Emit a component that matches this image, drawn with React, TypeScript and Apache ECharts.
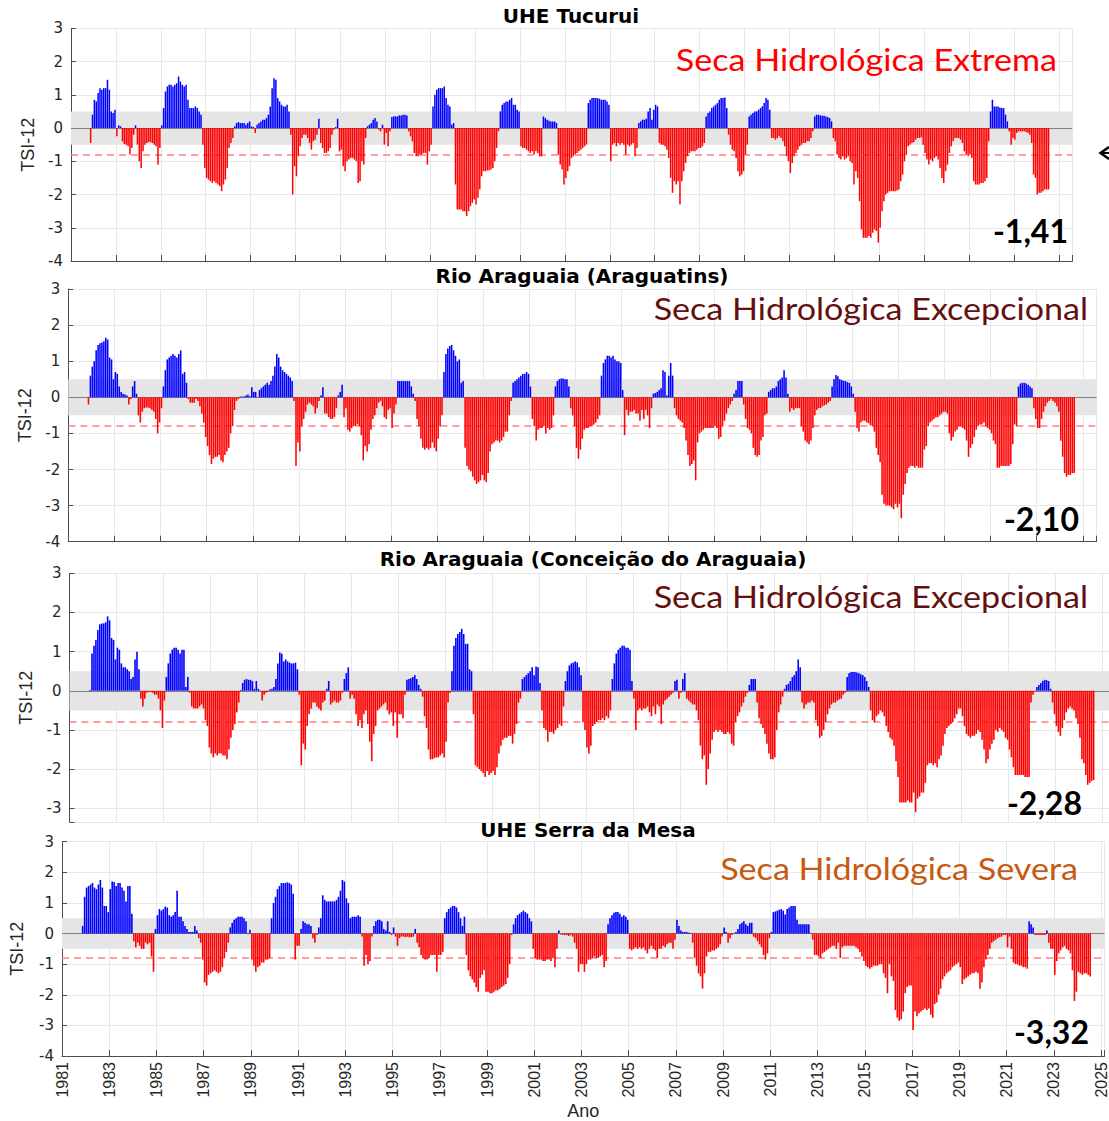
import React, { useEffect, useRef } from 'react';
import * as echarts from 'echarts';

// ---------------- DATA (monthly TSI-12, first row = Nov/Dec 1981, then one row per year) ----------------
const FIRST_YEAR = 1981;
const FIRST_MONTH = 11;

const tucurui: number[][] = [
  [-0.45, 0.4],
  [0.85, 0.8, 1.05, 1.2, 1.15, 1.2, 1.2, 1.45, 1.15, 0.5, 0.45, 0.55], // 1982
  [-0.25, 0.08, 0.05, -0.4, -0.48, -0.5, -0.55, -0.8, -0.6, -0.2, 0.08, -0.5],
  [-1.0, -1.2, -0.7, -0.5, -0.45, -0.42, -0.42, -0.45, -0.5, -0.55, -1.1, -0.6],
  [0.08, 0.6, 1.1, 1.25, 1.3, 1.3, 1.25, 1.3, 1.35, 1.55, 1.4, 1.3], // 1985
  [1.25, 1.3, 0.85, 0.6, 0.6, 0.6, 0.65, 0.6, 0.5, 0.4, -0.5, -1.2],
  [-1.5, -1.55, -1.6, -1.65, -1.6, -1.65, -1.7, -1.75, -1.9, -1.7, -1.55, -1.2],
  [-0.6, -0.45, -0.3, 0.05, 0.15, 0.18, 0.15, 0.15, 0.15, 0.1, 0.15, 0.2],
  [0.05, 0.03, -0.15, 0.1, 0.15, 0.2, 0.25, 0.25, 0.3, 0.4, 0.65, 1.2],
  [1.5, 1.45, 0.9, 0.8, 0.7, 0.65, 0.65, 0.7, 0.5, -0.2, -2.0, -1.15], // 1990
  [-1.45, -0.85, -0.55, -0.3, -0.2, -0.2, -0.3, -0.45, -0.65, -0.4, -0.35, -0.2],
  [0.28, -0.45, -0.6, -0.75, -0.75, -0.7, -0.6, -0.2, -0.05, 0.03, 0.28, -0.7],
  [-0.65, -1.15, -1.3, -1.0, -0.95, -0.9, -0.9, -0.95, -1.0, -1.65, -1.6, -1.0],
  [-1.1, -0.3, 0.05, 0.1, 0.15, 0.25, 0.3, 0.2, -0.05, -0.1, 0.1, -0.5],
  [-0.15, -0.55, -0.1, 0.33, 0.35, 0.35, 0.35, 0.38, 0.38, 0.4, 0.4, 0.38], // 1995
  [-0.1, -0.25, -0.4, -0.75, -0.85, -0.85, -0.8, -0.8, -0.75, -0.75, -1.1, -0.7],
  [-0.5, 0.65, 1.0, 1.15, 1.2, 1.2, 1.2, 1.25, 0.9, 0.7, 0.65, 0.1],
  [0.15, -1.7, -2.45, -2.45, -2.45, -2.5, -2.5, -2.65, -2.5, -2.35, -2.25, -2.15],
  [-2.3, -2.1, -1.85, -1.45, -1.3, -1.3, -1.28, -1.27, -1.25, -1.2, -1.0, -0.6],
  [-0.1, 0.5, 0.7, 0.75, 0.8, 0.8, 0.85, 0.9, 0.7, 0.7, 0.55, 0.5], // 2000
  [-0.55, -0.6, -0.6, -0.65, -0.7, -0.75, -0.7, -0.8, -0.7, -0.75, -0.85, -0.85],
  [0.35, 0.3, 0.25, 0.22, 0.2, 0.2, 0.2, 0.15, -0.8, -1.1, -1.25, -1.7],
  [-1.5, -1.3, -1.15, -0.9, -0.85, -0.8, -0.75, -0.7, -0.65, -0.6, -0.55, -0.5],
  [0.75, 0.85, 0.9, 0.9, 0.9, 0.9, 0.88, 0.85, 0.85, 0.85, 0.8, 0.7],
  [-1.0, -0.5, -0.45, -0.55, -0.45, -0.5, -0.45, -0.5, -0.8, -0.5, -0.55, -0.5], // 2005
  [-0.45, -0.85, -0.6, 0.15, 0.2, 0.25, 0.25, 0.28, 0.5, 0.6, 0.25, 0.55],
  [0.7, 0.65, -0.45, -0.5, -0.5, -0.55, -0.65, -0.9, -1.5, -1.95, -1.6, -1.7],
  [-1.6, -2.3, -1.6, -1.3, -1.05, -0.85, -0.75, -0.7, -0.7, -0.7, -0.65, -0.6],
  [-0.6, -0.55, -0.45, 0.35, 0.45, 0.5, 0.6, 0.65, 0.7, 0.75, 0.85, 0.9],
  [0.9, 0.92, 0.6, -0.2, -0.5, -0.65, -0.7, -0.9, -1.3, -1.45, -1.4, -1.3], // 2010
  [-0.8, -0.5, 0.35, 0.4, 0.45, 0.5, 0.5, 0.55, 0.6, 0.65, 0.75, 0.9],
  [0.85, 0.55, -0.3, -0.3, -0.35, -0.3, -0.25, -0.3, -0.4, -0.55, -0.85, -1.0],
  [-1.35, -1.05, -0.85, -0.75, -0.65, -0.55, -0.5, -0.45, -0.45, -0.4, -0.4, -0.3],
  [-0.1, 0.35, 0.4, 0.4, 0.38, 0.37, 0.37, 0.35, 0.33, 0.3, 0.2, -0.3],
  [-0.4, -0.8, -0.9, -0.95, -0.85, -0.95, -0.9, -0.85, -1.0, -1.05, -1.7, -1.3], // 2015
  [-1.5, -2.2, -3.05, -3.3, -3.3, -3.3, -3.25, -3.3, -3.15, -3.05, -3.1, -3.45],
  [-3.0, -2.5, -2.2, -2.0, -1.95, -1.9, -1.9, -1.9, -1.9, -1.88, -1.85, -1.6],
  [-1.4, -1.0, -0.8, -0.55, -0.5, -0.45, -0.42, -0.35, -0.3, -0.3, -0.28, -0.5],
  [-0.75, -0.95, -1.1, -0.95, -1.0, -0.9, -0.85, -0.95, -1.2, -1.5, -1.65, -1.3],
  [-1.1, -0.75, -0.55, -0.4, -0.3, -0.3, -0.3, -0.35, -0.45, -0.7, -0.8, -0.85], // 2020
  [-0.8, -0.9, -1.6, -1.7, -1.7, -1.7, -1.65, -1.65, -1.6, -1.5, -0.4, 0.5],
  [0.85, 0.65, 0.65, 0.65, 0.62, 0.6, 0.6, 0.4, 0.2, -0.1, -0.5, -0.3],
  [-0.35, -0.15, -0.1, -0.1, -0.1, -0.1, -0.12, -0.15, -0.2, -0.45, -1.4, -1.5],
  [-2.0, -1.95, -1.95, -1.9, -1.85, -1.85, -1.85], // 2024
];

const araguatins: number[][] = [
  [-0.2, 0.6],
  [0.85, 1.0, 1.3, 1.45, 1.5, 1.52, 1.55, 1.65, 1.6, 1.1, 1.05, 0.5], // 1982
  [0.7, 0.65, 0.3, 0.15, 0.1, 0.08, 0.05, -0.2, -0.05, 0.3, 0.45, 0.1],
  [-0.5, -0.7, -0.4, -0.3, -0.28, -0.28, -0.3, -0.35, -0.4, -0.6, -1.0, -0.7],
  [-0.3, 0.3, 0.75, 1.05, 1.1, 1.15, 1.2, 1.15, 1.1, 1.2, 1.3, 0.65], // 1985
  [0.7, 0.4, -0.05, -0.15, -0.15, -0.15, -0.05, -0.1, -0.25, -0.45, -0.7, -1.1],
  [-1.35, -1.6, -1.85, -1.7, -1.65, -1.65, -1.6, -1.75, -1.8, -1.6, -1.5, -1.4],
  [-1.0, -0.8, -0.35, -0.1, -0.05, 0.02, 0.02, 0.02, 0.05, 0.08, 0.03, 0.28],
  [0.15, 0.15, -0.02, 0.2, 0.25, 0.3, 0.35, 0.4, 0.35, 0.45, 0.6, 0.85],
  [1.2, 1.1, 0.85, 0.75, 0.7, 0.65, 0.6, 0.55, 0.45, -0.1, -1.9, -1.25], // 1990
  [-1.5, -0.8, -0.6, -0.4, -0.2, -0.15, -0.2, -0.25, -0.45, -0.3, -0.1, 0.05],
  [0.28, -0.45, -0.45, -0.55, -0.6, -0.6, -0.55, -0.3, 0.05, 0.15, 0.35, -0.55],
  [-0.3, -0.9, -0.95, -0.85, -0.8, -0.8, -0.75, -0.8, -1.05, -1.75, -1.35, -1.5],
  [-1.3, -0.9, -0.6, -0.5, -0.3, -0.15, -0.1, -0.25, -0.55, -0.6, -0.35, -0.3],
  [-0.85, -0.45, -0.2, 0.45, 0.45, 0.45, 0.45, 0.45, 0.45, 0.45, 0.3, 0.1], // 1995
  [-0.1, -0.6, -0.8, -1.15, -1.4, -1.45, -1.4, -1.45, -1.4, -1.25, -1.4, -1.5],
  [-1.15, -0.8, -0.5, 0.7, 1.2, 1.35, 1.42, 1.45, 1.3, 1.15, 1.0, 1.05],
  [0.4, 0.45, -1.4, -1.9, -2.0, -2.05, -2.2, -2.3, -2.4, -2.35, -2.3, -2.15],
  [-2.3, -2.35, -2.1, -1.5, -1.3, -1.25, -1.2, -1.2, -1.25, -1.2, -1.1, -0.95],
  [-0.95, -0.5, -0.1, 0.4, 0.45, 0.5, 0.55, 0.6, 0.65, 0.65, 0.7, 0.65], // 2000
  [0.3, -0.6, -0.8, -1.2, -0.9, -0.85, -0.85, -0.8, -1.0, -0.85, -0.9, -0.85],
  [-0.5, 0.3, 0.45, 0.5, 0.52, 0.52, 0.5, 0.5, 0.3, -0.3, -0.5, -0.8],
  [-1.4, -1.7, -1.45, -1.15, -0.9, -0.85, -0.85, -0.8, -0.8, -0.75, -0.7, -0.6],
  [-0.5, 0.6, 0.95, 1.05, 1.15, 1.15, 1.1, 1.15, 1.05, 1.0, 1.0, 0.95],
  [0.2, -1.05, -0.35, -0.5, -0.4, -0.4, -0.35, -0.45, -0.45, -0.65, -0.35, -0.6], // 2005
  [-0.35, -0.5, -0.85, -0.3, 0.1, 0.12, 0.15, 0.2, 0.25, 0.75, 0.7, 0.05],
  [0.6, 0.95, 0.6, -0.3, -0.5, -0.6, -0.65, -0.7, -0.85, -1.2, -1.6, -1.9],
  [-1.85, -1.75, -2.3, -1.25, -1.0, -0.95, -0.9, -0.85, -0.85, -0.85, -0.85, -0.85],
  [-0.8, -0.85, -1.15, -1.1, -0.8, -0.65, -0.45, -0.3, -0.2, -0.1, 0.1, 0.2],
  [0.45, 0.45, 0.45, -0.2, -0.6, -0.85, -0.9, -1.0, -1.4, -1.6, -1.65, -1.6], // 2010
  [-1.2, -1.1, -0.5, -0.45, 0.15, 0.2, 0.25, 0.25, 0.3, 0.45, 0.5, 0.55],
  [0.75, 0.55, 0.1, -0.4, -0.3, -0.35, -0.3, -0.3, -0.3, -0.8, -0.95, -1.2],
  [-1.25, -1.3, -1.2, -0.85, -0.5, -0.35, -0.3, -0.3, -0.25, -0.22, -0.2, -0.15],
  [-0.1, 0.3, 0.5, 0.62, 0.58, 0.5, 0.48, 0.46, 0.45, 0.42, 0.4, 0.3],
  [0.1, -0.4, -0.85, -0.95, -0.7, -0.65, -0.65, -0.7, -0.72, -0.78, -0.8, -0.95], // 2015
  [-1.4, -1.6, -1.8, -2.7, -2.95, -3.0, -3.0, -3.0, -3.05, -3.1, -2.95, -3.05],
  [-2.95, -3.35, -2.7, -2.4, -2.1, -1.95, -1.9, -1.9, -1.95, -1.9, -1.95, -1.95],
  [-1.95, -1.45, -1.35, -0.8, -0.7, -0.65, -0.6, -0.55, -0.55, -0.5, -0.45, -0.4],
  [-0.4, -0.45, -1.0, -1.2, -1.1, -0.95, -0.9, -0.8, -0.8, -0.85, -0.9, -1.2],
  [-1.65, -1.4, -1.3, -1.1, -0.9, -0.8, -0.75, -0.75, -0.7, -0.8, -0.85, -0.9], // 2020
  [-1.0, -1.2, -1.3, -1.95, -1.95, -1.9, -1.9, -1.9, -1.9, -1.9, -1.85, -1.3],
  [-0.75, -0.8, 0.3, 0.38, 0.4, 0.4, 0.38, 0.35, 0.3, 0.25, -0.3, -0.6],
  [-0.85, -0.85, -0.6, -0.4, -0.25, -0.15, -0.1, -0.05, -0.1, -0.15, -0.25, -0.4],
  [-1.2, -1.65, -2.1, -2.2, -2.15, -2.15, -2.1, -2.1], // 2024
];

const conceicao: number[][] = [
  [0.02, 0.95],
  [1.15, 1.3, 1.55, 1.7, 1.72, 1.72, 1.75, 1.9, 1.8, 1.35, 1.3, 0.8], // 1982
  [1.1, 1.05, 0.7, 0.6, 0.6, 0.55, 0.5, 0.3, 0.35, 0.8, 1.0, 0.55],
  [-0.2, -0.4, -0.2, -0.05, -0.03, -0.03, -0.05, -0.1, -0.1, -0.2, -0.5, -0.95],
  [-0.25, 0.35, 0.7, 0.95, 1.05, 1.1, 1.1, 1.05, 0.95, 1.05, 1.05, 0.1], // 1985
  [0.35, -0.05, -0.4, -0.45, -0.45, -0.45, -0.4, -0.35, -0.45, -0.75, -0.9, -1.45],
  [-1.6, -1.7, -1.6, -1.65, -1.6, -1.6, -1.65, -1.65, -1.75, -1.5, -1.2, -1.0],
  [-0.85, -0.55, -0.3, 0.02, 0.2, 0.28, 0.3, 0.28, 0.28, 0.25, 0.05, 0.25],
  [0.05, 0.01, -0.25, -0.1, -0.05, -0.03, 0.04, 0.05, 0.1, 0.3, 0.7, 0.98],
  [0.95, 0.75, 0.8, 0.75, 0.72, 0.7, 0.7, 0.72, 0.55, -0.1, -1.9, -1.35], // 1990
  [-1.5, -0.9, -0.6, -0.45, -0.3, -0.3, -0.4, -0.45, -0.5, -0.3, -0.25, 0.05],
  [0.25, -0.35, -0.3, -0.25, -0.3, -0.3, -0.25, -0.05, 0.3, 0.45, 0.6, -0.2],
  [-0.1, -0.2, -0.6, -0.9, -0.75, -0.95, -0.6, -0.5, -0.85, -1.3, -1.8, -1.1],
  [-0.9, -0.5, -0.45, -0.4, -0.35, -0.3, -0.5, -0.6, -0.55, -0.9, -0.55, -1.2],
  [-0.6, -0.6, -0.7, -0.1, 0.28, 0.3, 0.32, 0.35, 0.4, 0.3, 0.15, 0.05], // 1995
  [-0.15, -0.65, -0.95, -1.5, -1.75, -1.75, -1.72, -1.7, -1.7, -1.65, -1.6, -1.7],
  [-1.3, -0.3, -0.05, 0.5, 1.15, 1.35, 1.45, 1.5, 1.58, 1.45, 1.2, 1.2],
  [0.55, 0.5, -0.6, -1.9, -1.95, -2.0, -2.05, -2.1, -2.2, -2.05, -2.15, -2.1],
  [-2.05, -2.15, -1.95, -1.6, -1.4, -1.25, -1.2, -1.2, -1.15, -1.15, -1.35, -1.1],
  [-0.85, -0.3, -0.2, 0.3, 0.35, 0.4, 0.45, 0.5, 0.6, 0.4, 0.62, 0.6], // 2000
  [0.2, -0.5, -0.95, -1.0, -1.3, -1.05, -1.05, -1.1, -1.0, -0.95, -0.85, -0.9],
  [-0.4, 0.25, 0.5, 0.65, 0.7, 0.72, 0.75, 0.72, 0.6, 0.4, -0.8, -1.0],
  [-1.45, -1.6, -1.4, -0.9, -0.85, -0.8, -0.75, -0.75, -0.7, -0.75, -0.65, -0.7],
  [-0.5, 0.3, 0.7, 0.95, 1.05, 1.1, 1.15, 1.15, 1.1, 1.1, 1.05, 0.25],
  [-0.2, -1.0, -0.5, -0.45, -0.5, -0.45, -0.45, -0.4, -0.55, -0.65, -0.4, -0.6], // 2005
  [-0.35, -0.4, -0.85, -0.35, -0.25, -0.2, -0.15, -0.1, -0.05, 0.25, 0.28, -0.2],
  [-0.05, 0.3, 0.45, -0.2, -0.25, -0.3, -0.35, -0.35, -0.5, -0.75, -1.4, -1.75],
  [-1.65, -2.4, -2.0, -1.6, -1.25, -1.05, -1.0, -1.05, -1.0, -1.05, -1.1, -1.1],
  [-1.05, -1.1, -1.35, -1.4, -0.8, -0.65, -0.55, -0.4, -0.3, -0.15, -0.05, 0.15],
  [0.3, 0.3, 0.3, -0.3, -0.7, -0.85, -0.95, -1.1, -1.35, -1.6, -1.75, -1.75], // 2010
  [-1.7, -1.0, -0.55, -0.35, -0.15, 0.05, 0.15, 0.18, 0.25, 0.35, 0.4, 0.5],
  [0.8, 0.6, -0.3, -0.45, -0.35, -0.3, -0.3, -0.25, -0.3, -0.75, -0.9, -1.2],
  [-1.15, -1.0, -0.8, -0.6, -0.45, -0.35, -0.3, -0.3, -0.25, -0.22, -0.2, -0.1],
  [-0.05, 0.35, 0.45, 0.48, 0.48, 0.48, 0.47, 0.45, 0.42, 0.4, 0.35, 0.25],
  [0.1, -0.5, -0.75, -0.8, -0.65, -0.6, -0.5, -0.55, -0.65, -0.9, -1.05, -1.2], // 2015
  [-1.25, -1.4, -1.8, -2.2, -2.85, -2.85, -2.85, -2.85, -2.8, -2.85, -2.85, -2.6],
  [-3.1, -2.75, -2.7, -2.6, -2.6, -2.35, -1.9, -1.85, -1.85, -1.9, -1.85, -1.95],
  [-1.75, -1.65, -1.4, -1.1, -0.95, -0.9, -0.85, -0.8, -0.7, -0.6, -0.45, -0.45],
  [-0.65, -0.9, -1.1, -1.15, -1.2, -1.15, -1.15, -1.1, -1.0, -1.05, -1.25, -1.5],
  [-1.85, -1.75, -1.5, -1.35, -1.25, -1.0, -1.05, -0.95, -1.0, -1.05, -1.2, -1.25], // 2020
  [-1.5, -1.7, -1.95, -2.15, -2.15, -2.15, -2.15, -2.15, -2.2, -2.2, -2.2, -0.3],
  [-0.1, -0.02, 0.1, 0.15, 0.2, 0.25, 0.28, 0.27, 0.25, 0.05, -0.3, -0.6],
  [-0.9, -1.05, -1.15, -0.95, -0.75, -0.55, -0.45, -0.4, -0.45, -0.5, -0.7, -0.85],
  [-1.2, -1.75, -1.85, -2.15, -2.4, -2.35, -2.3, -2.28], // 2024
];

const serraDaMesa: number[][] = [
  [0.25, 1.2],
  [1.5, 1.55, 1.6, 1.65, 1.5, 1.45, 1.6, 1.75, 1.5, 0.9, 0.9, 0.7], // 1982
  [1.45, 1.7, 1.68, 1.55, 1.65, 1.65, 1.5, 1.4, 1.05, 1.55, 1.55, 0.65],
  [-0.25, -0.45, -0.3, -0.4, -0.5, -0.5, -0.3, -0.35, -0.3, -0.75, -1.25, 0.15],
  [0.6, 0.8, 0.75, 0.8, 0.88, 0.85, 0.6, 0.55, 0.6, 0.7, 1.4, 0.55], // 1985
  [0.55, 0.4, 0.25, 0.15, 0.05, 0.05, 0.05, 0.25, 0.1, -0.15, -0.3, -0.85],
  [-1.6, -1.7, -1.35, -1.3, -1.25, -1.2, -1.25, -1.3, -1.25, -1.1, -0.8, -0.6],
  [-0.3, 0.2, 0.35, 0.45, 0.5, 0.55, 0.55, 0.55, 0.5, 0.4, -0.02, 0.12],
  [-0.85, -1.05, -1.25, -1.1, -1.05, -0.95, -0.95, -0.85, -0.85, -0.8, 0.5, 1.0],
  [1.2, 1.45, 1.55, 1.65, 1.65, 1.65, 1.67, 1.65, 1.6, 1.3, -0.85, -0.4], // 1990
  [-0.4, 0.15, 0.4, 0.35, 0.3, 0.3, 0.25, -0.15, -0.3, -0.05, 0.2, 0.5],
  [1.25, 1.1, 1.05, 1.05, 1.05, 1.05, 1.05, 1.1, 1.2, 1.4, 1.75, 1.7],
  [1.15, 1.0, 0.5, 0.55, 0.55, 0.55, 0.6, 0.55, -0.1, -1.05, -0.7, -1.0],
  [-0.9, -0.1, 0.25, 0.4, 0.45, 0.45, 0.4, 0.15, 0.1, 0.4, 0.05, -0.05],
  [0.2, -0.1, -0.4, -0.15, -0.1, -0.1, -0.12, -0.1, -0.12, -0.12, -0.1, 0.15], // 1995
  [-0.3, -0.45, -0.7, -0.8, -0.85, -0.85, -0.8, -0.7, -0.7, -0.7, -1.25, -0.7],
  [-0.7, -0.6, 0.5, 0.7, 0.8, 0.85, 0.9, 0.9, 0.85, 0.7, 0.5, 0.25],
  [0.55, -0.7, -1.2, -1.4, -1.5, -1.6, -1.75, -1.9, -1.45, -1.35, -1.2, -1.9],
  [-1.9, -1.95, -1.95, -1.9, -1.85, -1.85, -1.8, -1.75, -1.7, -1.65, -1.45, -1.0],
  [-0.05, 0.3, 0.5, 0.6, 0.65, 0.7, 0.75, 0.7, 0.65, 0.5, 0.4, -0.5], // 2000
  [-0.8, -0.85, -0.85, -0.85, -0.9, -0.9, -0.85, -0.85, -0.9, -0.8, -1.1, -0.5],
  [0.1, -0.03, -0.05, -0.05, -0.05, -0.08, -0.05, -0.1, -0.3, -0.5, -1.25, -1.0],
  [-1.0, -1.25, -1.0, -0.85, -0.85, -0.8, -0.75, -0.8, -0.8, -0.75, -0.7, -1.1],
  [-0.9, 0.3, 0.5, 0.6, 0.68, 0.7, 0.7, 0.65, 0.55, 0.6, 0.55, 0.45],
  [-0.5, -0.55, -0.5, -0.45, -0.5, -0.45, -0.5, -0.45, -0.55, -0.65, -0.5, -0.4], // 2005
  [-0.5, -0.55, -0.8, -0.5, -0.5, -0.4, -0.45, -0.35, -0.3, -0.3, -0.5, -0.2],
  [0.45, 0.25, 0.1, 0.05, 0.05, 0.05, 0.03, 0.02, -0.3, -0.8, -1.05, -1.3],
  [-1.4, -1.8, -1.3, -0.75, -0.6, -0.6, -0.55, -0.55, -0.5, -0.45, -0.35, -0.1],
  [0.2, 0.05, -0.3, -0.15, -0.05, 0.02, 0.05, 0.15, 0.3, 0.35, 0.4, 0.3],
  [0.25, 0.35, 0.35, -0.1, -0.15, -0.25, -0.35, -0.45, -0.7, -0.85, -0.65, -0.15], // 2010
  [0.05, 0.7, 0.72, 0.75, 0.78, 0.8, 0.75, 0.62, 0.8, 0.85, 0.9, 0.9],
  [0.9, 0.45, 0.3, 0.3, 0.3, 0.3, 0.3, 0.3, 0.02, -0.2, -0.7, -0.7],
  [-0.75, -0.8, -0.65, -0.6, -0.55, -0.5, -0.45, -0.4, -0.4, -0.5, -0.3, -0.8],
  [-0.45, -0.4, -0.4, -0.4, -0.4, -0.4, -0.4, -0.45, -0.5, -0.6, -0.75, -0.9],
  [-1.05, -1.1, -1.15, -1.1, -1.05, -1.05, -1.05, -1.0, -1.0, -1.3, -1.45, -1.95], // 2015
  [-1.0, -1.4, -1.55, -2.5, -2.75, -2.85, -2.8, -2.55, -1.95, -1.75, -1.7, -1.7],
  [-3.15, -2.55, -2.7, -2.6, -2.55, -2.5, -2.45, -2.5, -2.45, -2.65, -2.75, -2.3],
  [-2.25, -2.0, -1.8, -1.5, -1.4, -1.3, -1.25, -1.2, -1.1, -1.05, -1.0, -0.95],
  [-1.1, -1.65, -1.5, -1.45, -1.4, -1.35, -1.3, -1.3, -1.25, -1.3, -1.8, -1.6],
  [-1.1, -0.85, -0.7, -0.5, -0.3, -0.25, -0.2, -0.15, -0.12, -0.1, -0.05, -0.05], // 2020
  [-0.45, -0.1, -0.5, -0.95, -1.0, -1.0, -1.05, -1.05, -1.1, -1.1, -1.15, 0.4],
  [0.3, 0.2, -0.05, -0.05, -0.05, -0.05, -0.05, -0.05, 0.1, -0.3, -0.5, -0.5],
  [-1.35, -0.9, -0.65, -0.55, -0.45, -0.4, -0.5, -0.55, -0.65, -1.2, -2.2, -1.9],
  [-1.25, -1.3, -1.35, -1.3, -1.3, -1.35, -1.4], // 2024
];

const panelTitles = [
  'UHE Tucurui',
  'Rio Araguaia (Araguatins)',
  'Rio Araguaia (Conceição do Araguaia)',
  'UHE Serra da Mesa',
];
const droughtClasses = [
  'Seca Hidrológica Extrema',
  'Seca Hidrológica Excepcional',
  'Seca Hidrológica Excepcional',
  'Seca Hidrológica Severa',
];
const droughtValues = ['-1,41', '-2,10', '-2,28', '-3,32'];
const yTickValues = [-4, -3, -2, -1, 0, 1, 2, 3];
const xTickYears = [1981, 1983, 1985, 1987, 1989, 1991, 1993, 1995, 1997, 1999, 2001, 2003,
  2005, 2007, 2009, 2011, 2013, 2015, 2017, 2019, 2021, 2023, 2025];
const normalBand = [-0.5, 0.5];
const droughtThreshold = -0.8;

// ---------------- LAYOUT ----------------
const panelSeries = [tucurui, araguatins, conceicao, serraDaMesa];
const layout = [
  { left: 71, top: 28.3, width: 1001.3, height: 232.7, xMax: 2025.6, yMin: -4, barW: 1.5, nameGap: 32,
    titleX: 571, titleY: 15.5, noteX: 1057, noteY: 59, valX: 1068, valY: 230, noteColor: '#ff0000' },
  { left: 68.3, top: 289, width: 1028.4, height: 252.7, xMax: 2025.6, yMin: -4, barW: 1.55, nameGap: 34,
    titleX: 582, titleY: 275.5, noteX: 1088, noteY: 308, valX: 1079, valY: 518, noteColor: '#641010' },
  { left: 69.5, top: 573.3, width: 1039.5, height: 248.7, xMax: 2025.28, yMin: -3.35, barW: 1.6, nameGap: 35,
    titleX: 593, titleY: 559, noteX: 1088, noteY: 596, valX: 1082, valY: 802, noteColor: '#641010' },
  { left: 61.8, top: 841.7, width: 1047.2, height: 219.3, xMax: 2025.15, yMin: -4, barW: 1.6, nameGap: 36,
    titleX: 588, titleY: 830, noteX: 1078, noteY: 868, valX: 1089, valY: 1031, noteColor: '#c55a11' },
];

function buildPoints(rows: number[][]): [number, number][] {
  const pts: [number, number][] = [];
  rows.forEach((row, r) => {
    const offset = r === 0 ? FIRST_MONTH - 1 : 0;
    row.forEach((v, j) => {
      pts.push([FIRST_YEAR + r + (offset + j + 0.5) / 12, v]);
    });
  });
  return pts;
}

const isInt = (v: number) => Math.abs(v - Math.round(v)) < 1e-6;
const AXIS_COLOR = '#4d4d4d';
const GRID_COLOR = '#e8e8e8';
const TEXT_COLOR = '#262626';

function buildOption() {
  const grid = layout.map((l) => ({ left: l.left, top: l.top, width: l.width, height: l.height }));
  const xAxis = layout.map((l, i) => ({
    type: 'value',
    gridIndex: i,
    min: FIRST_YEAR,
    max: l.xMax,
    interval: 2,
    axisLine: { show: i !== 2, onZero: false, lineStyle: { color: AXIS_COLOR, width: 1 } },
    axisTick: { show: i !== 2, inside: true, length: 6, lineStyle: { color: AXIS_COLOR } },
    axisLabel: {
      show: i === 3,
      rotate: 90,
      margin: 6,
      fontSize: 16,
      fontFamily: '"Liberation Sans", Arial, sans-serif',
      color: TEXT_COLOR,
      formatter: (v: number) => (isInt(v) && xTickYears.includes(Math.round(v)) ? String(Math.round(v)) : ''),
    },
    splitLine: { show: true, lineStyle: { color: GRID_COLOR, width: 1 } },
    name: i === 3 ? 'Ano' : '',
    nameLocation: 'middle',
    nameGap: 46,
    nameTextStyle: { fontSize: 18, fontFamily: '"Liberation Sans", Arial, sans-serif', color: TEXT_COLOR },
  }));
  const yAxis = layout.map((l, i) => ({
    type: 'value',
    gridIndex: i,
    min: l.yMin,
    max: 3,
    ...(i === 2 ? { minInterval: 1, maxInterval: 1 } : { interval: 1 }),
    axisLine: { show: true, onZero: false, lineStyle: { color: AXIS_COLOR, width: 1 } },
    axisTick: { show: true, inside: true, length: 5, lineStyle: { color: AXIS_COLOR } },
    axisLabel: {
      margin: 8,
      fontSize: 15,
      fontFamily: '"DejaVu Sans", sans-serif',
      color: TEXT_COLOR,
      formatter: (v: number) => (isInt(v) && yTickValues.includes(Math.round(v)) ? String(Math.round(v)) : ''),
    },
    splitLine: { show: true, lineStyle: { color: GRID_COLOR, width: 1 } },
    name: 'TSI-12',
    nameLocation: 'middle',
    nameRotate: 90,
    nameGap: l.nameGap,
    nameTextStyle: { fontSize: 18, fontFamily: '"Liberation Sans", Arial, sans-serif', color: TEXT_COLOR },
  }));

  const series: any[] = [];
  layout.forEach((l, i) => {
    series.push({
      type: 'line',
      xAxisIndex: i,
      yAxisIndex: i,
      data: [[FIRST_YEAR, 0]],
      symbol: 'none',
      lineStyle: { width: 0 },
      silent: true,
      z: 1,
      markArea: {
        silent: true,
        itemStyle: { color: '#e5e5e5' },
        data: [[{ yAxis: normalBand[1] }, { yAxis: normalBand[0] }]],
      },
      markLine: {
        silent: true,
        z: 1,
        symbol: ['none', 'none'],
        label: { show: false },
        data: [
          { yAxis: 0, lineStyle: { color: '#808080', width: 1, type: 'solid' } },
          { yAxis: droughtThreshold, lineStyle: { color: '#ff8080', width: 1.5, type: [7, 5] } },
        ],
      },
    });
    series.push({
      type: 'bar',
      xAxisIndex: i,
      yAxisIndex: i,
      z: 2,
      barWidth: l.barW,
      data: buildPoints(panelSeries[i]),
      itemStyle: { color: (p: any) => (p.value[1] >= 0 ? '#0000ff' : '#ff0000') },
    });
  });

  const elements: any[] = [];
  layout.forEach((l, i) => {
    elements.push({
      type: 'text', x: l.titleX, y: l.titleY, z: 10,
      style: { text: panelTitles[i], fontSize: 20, fontWeight: 'bold', fontFamily: '"DejaVu Sans", sans-serif',
        fill: '#000', textAlign: 'center', align: 'center', textVerticalAlign: 'middle', verticalAlign: 'middle' },
    });
    elements.push({
      type: 'text', x: l.noteX, y: l.noteY, z: 10, scaleX: 1.1,
      style: { text: droughtClasses[i], fontSize: 31, fontFamily: 'Lato, "Open Sans", sans-serif',
        fill: l.noteColor, textAlign: 'right', align: 'right', textVerticalAlign: 'middle', verticalAlign: 'middle' },
    });
    elements.push({
      type: 'text', x: l.valX, y: l.valY, z: 10,
      style: { text: droughtValues[i], fontSize: 32, fontWeight: 'bold', fontFamily: 'Lato, "Open Sans", sans-serif',
        fill: '#000', textAlign: 'right', align: 'right', textVerticalAlign: 'middle', verticalAlign: 'middle' },
    });
  });
  elements.push({
    type: 'polyline', z: 10,
    shape: { points: [[1109, 147], [1100.5, 153], [1109, 159]] },
    style: { stroke: '#000', lineWidth: 2.5, fill: null },
  });
  elements.push({
    type: 'line', z: 10,
    shape: { x1: 1100.5, y1: 153, x2: 1110, y2: 153 },
    style: { stroke: '#000', lineWidth: 2 },
  });

  return {
    animation: false,
    backgroundColor: '#ffffff',
    grid,
    xAxis,
    yAxis,
    series,
    graphic: { elements },
  };
}

export default function App() {
  const ref = useRef<HTMLDivElement>(null);
  useEffect(() => {
    document.body.style.margin = '0';
    if (!ref.current) return;
    const chart = echarts.init(ref.current, undefined, { renderer: 'svg' });
    chart.setOption(buildOption() as any);
    return () => chart.dispose();
  }, []);
  return <div ref={ref} style={{ width: 1109, height: 1121 }} />;
}
